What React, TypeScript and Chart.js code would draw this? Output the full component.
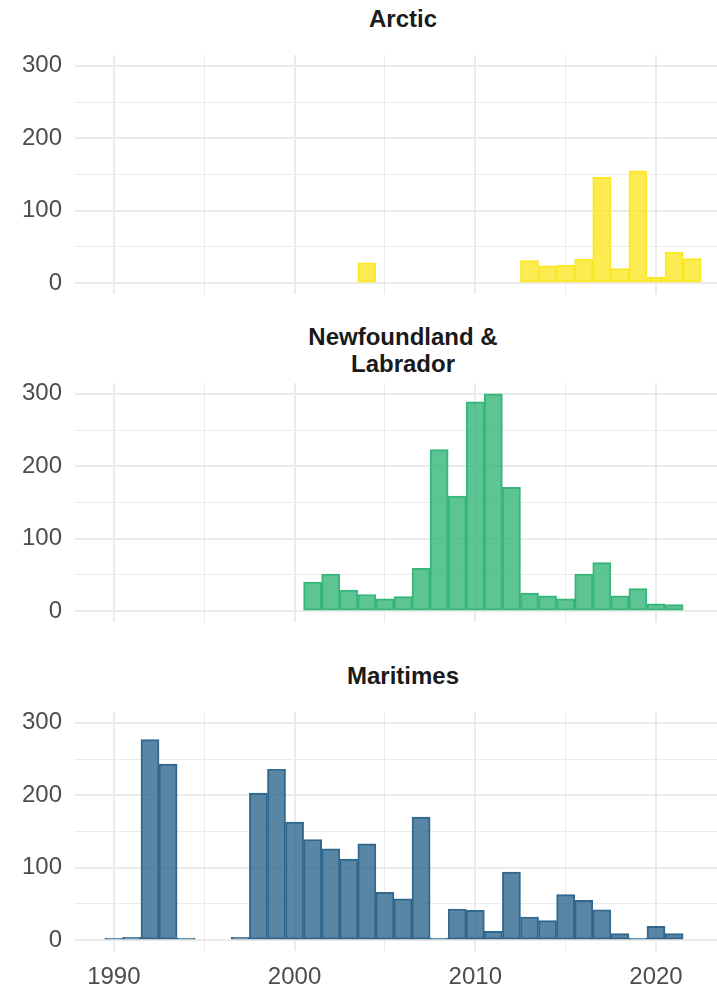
import React, { useEffect, useRef } from "react";
import { Chart, registerables } from "chart.js";

Chart.register(...registerables);

// ---- Data (bin centres = years, binwidth 1 year) ----
const years = [
  1990, 1991, 1992, 1993, 1994, 1995, 1996, 1997, 1998, 1999, 2000,
  2001, 2002, 2003, 2004, 2005, 2006, 2007, 2008, 2009, 2010,
  2011, 2012, 2013, 2014, 2015, 2016, 2017, 2018, 2019, 2020, 2021, 2022,
];

const arcticCounts: (number | null)[] = [
  null, null, null, null, null, null, null, null, null, null, null,
  null, null, null, 28, null, null, null, null, null, null,
  null, null, 31, 24, 25, 33, 146, 20, 155, 8, 43, 34,
];

const newfoundlandCounts: (number | null)[] = [
  null, null, null, null, null, null, null, null, null, null, null,
  40, 51, 29, 23, 17, 20, 59, 223, 159, 289,
  300, 171, 25, 21, 17, 51, 67, 21, 31, 10, 9, null,
];

const maritimesCounts: (number | null)[] = [
  1, 4, 277, 243, 1, null, null, 4, 203, 236, 163,
  139, 126, 112, 133, 66, 57, 170, 2, 43, 41,
  12, 94, 32, 27, 63, 55, 42, 9, 2, 19, 9, null,
];

const panelTitles = ["Arctic", "Newfoundland &\nLabrador", "Maritimes"];
const yTickLabels = [0, 100, 200, 300];
const xTickLabels = [1990, 2000, 2010, 2020];

const FONT = "'Liberation Sans', Arial, Helvetica, sans-serif";
const GRID = "#EBEBEB";
const CANVAS_W = 740;

type PanelProps = {
  counts: (number | null)[];
  rgb: [number, number, number];
  top: number; // chart-area top (px)
  showX: boolean;
};

function Panel({ counts, rgb, top, showX }: PanelProps) {
  const ref = useRef<HTMLCanvasElement | null>(null);
  const padTop = 20;
  const areaH = 239;
  const bottomH = showX ? 37 : 20;
  const height = padTop + areaH + bottomH;

  useEffect(() => {
    if (!ref.current) return;
    const points = years
      .map((yr, i) => ({ x: yr, y: counts[i] }))
      .filter((p) => p.y !== null) as { x: number; y: number }[];
    const [r, g, b] = rgb;
    const chart = new Chart(ref.current, {
      type: "bar",
      data: {
        datasets: [
          {
            data: points as any,
            backgroundColor: `rgba(${r},${g},${b},0.8)`,
            borderColor: `rgb(${r},${g},${b})`,
            borderWidth: 1.3,
            borderSkipped: false,
            barPercentage: 1,
            categoryPercentage: 1,
            minBarLength: 2,
          } as any,
        ],
      },
      options: {
        responsive: false,
        animation: false,
        devicePixelRatio: 1,
        layout: {
          padding: { left: 0, right: CANVAS_W - 731, top: padTop, bottom: showX ? 0 : bottomH },
        },
        plugins: {
          legend: { display: false },
          tooltip: { enabled: false },
          title: { display: false },
        },
        scales: {
          x: {
            type: "linear",
            min: 1987.85,
            max: 2024.15,
            offset: false,
            grid: {
              offset: false,
              color: GRID,
              drawTicks: false,
              lineWidth: (ctx: any) =>
                ctx.tick && xTickLabels.includes(ctx.tick.value) ? 2 : 1,
            },
            border: { display: false },
            ticks: {
              display: showX,
              stepSize: 5,
              includeBounds: false,
              autoSkip: false,
              maxRotation: 0,
              padding: 12,
              color: "#4D4D4D",
              font: { family: FONT, size: 24 },
              callback: (v: any) => (xTickLabels.includes(Number(v)) ? String(v) : ""),
            },
            afterFit: (s: any) => {
              s.height = showX ? 37 : 0;
              s.paddingLeft = 0;
              s.paddingRight = 0;
              s.paddingTop = 0;
              s.paddingBottom = 0;
            },
          },
          y: {
            type: "linear",
            min: -15,
            max: 315,
            grid: {
              color: GRID,
              drawTicks: false,
              lineWidth: (ctx: any) =>
                ctx.tick && yTickLabels.includes(ctx.tick.value) ? 2 : 1,
            },
            border: { display: false },
            ticks: {
              stepSize: 50,
              includeBounds: false,
              padding: 13,
              color: "#4D4D4D",
              font: { family: FONT, size: 24 },
              callback: (v: any) => (yTickLabels.includes(Number(v)) ? String(v) : ""),
            },
            afterFit: (s: any) => {
              s.width = 75;
              s.paddingLeft = 0;
              s.paddingRight = 0;
              s.paddingTop = 0;
              s.paddingBottom = 0;
            },
          },
        },
      } as any,
    });
    return () => chart.destroy();
  }, []);

  return (
    <canvas
      ref={ref}
      width={CANVAS_W}
      height={height}
      style={{
        position: "absolute",
        left: 0,
        top: top - padTop,
        width: CANVAS_W,
        height,
      }}
    />
  );
}

const titleStyle: React.CSSProperties = {
  position: "absolute",
  left: 0,
  width: 806,
  textAlign: "center",
  fontFamily: FONT,
  fontWeight: "bold",
  fontSize: 24,
  lineHeight: "27px",
  color: "#1A1A1A",
  whiteSpace: "pre-line",
};

export default function App() {
  return (
    <div
      style={{
        position: "fixed",
        left: 0,
        top: 0,
        width: 717,
        height: 989,
        overflow: "hidden",
        background: "#FFFFFF",
      }}
    >
      <div style={{ ...titleStyle, top: 5 }}>{panelTitles[0]}</div>
      <div style={{ ...titleStyle, top: 323 }}>{panelTitles[1]}</div>
      <div style={{ ...titleStyle, top: 662 }}>{panelTitles[2]}</div>
      <Panel counts={arcticCounts} rgb={[253, 231, 37]} top={55} showX={false} />
      <Panel counts={newfoundlandCounts} rgb={[53, 183, 121]} top={383} showX={false} />
      <Panel counts={maritimesCounts} rgb={[49, 104, 142]} top={712} showX={true} />
    </div>
  );
}
